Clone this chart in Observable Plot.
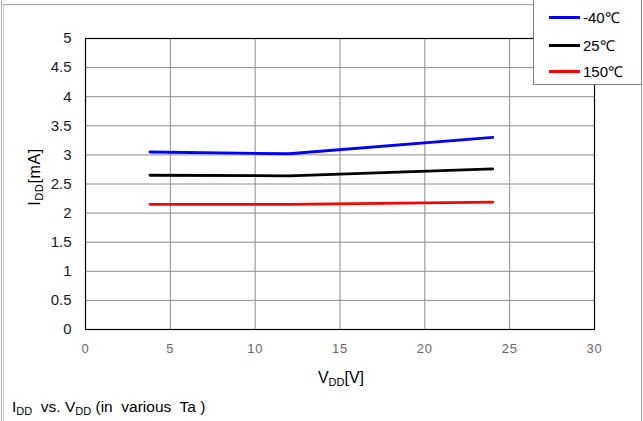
<!DOCTYPE html>
<html>
<head>
<meta charset="utf-8">
<script src="https://cdn.jsdelivr.net/npm/d3@7"></script>
<script src="https://cdn.jsdelivr.net/npm/@observablehq/plot@0.6"></script>
<style>
  html, body { margin: 0; padding: 0; background: #fff; }
  #wrap { position: relative; width: 643px; height: 421px; overflow: hidden; font-family: "Liberation Sans", Arial, sans-serif; }
  #wrap svg { position: absolute; left: 0; top: 0; }
  #wrap svg g[aria-label="x-axis tick label"] text { letter-spacing: 0.8px; }
  .lbl { position: absolute; white-space: nowrap; color: #000; font-size: 16px; }
  .lbl sub { font-size: 11px; vertical-align: -3px; }
  #legend { position: absolute; left: 533px; top: -1px; width: 107px; height: 84px; border: 1px solid #808080; background: #fff; }
  .row { position: absolute; left: 15px; height: 16px; display: flex; align-items: center; font-size: 15px; }
  .sw { width: 31px; height: 3px; margin-right: 3px; }
  .frameL1 { position: absolute; left: 1px; top: 0; width: 1px; height: 421px; background: #b0b0b0; }
  .frameL2 { position: absolute; left: 3px; top: 4px; width: 1px; height: 417px; background: #d0d0d0; }
  .frameT { position: absolute; left: 3px; top: 4px; width: 639px; height: 1px; background: #a0a0a0; }
  .frameR { position: absolute; left: 641px; top: 4px; width: 1px; height: 417px; background: #a0a0a0; }
</style>
</head>
<body>
<div id="wrap"></div>
<script>
// Data
const seriesNames = ["-40℃", "25℃", "150℃"];
const seriesColors = ["#0000ff", "#000000", "#ff0000"];
const vdd = [3.8, 12, 24];
const iddM40 = [3.05, 3.02, 3.30];
const idd25 = [2.65, 2.64, 2.76];
const idd150 = [2.15, 2.15, 2.19];
const xTicks = [0, 5, 10, 15, 20, 25, 30];
const yTicks = [0, 0.5, 1, 1.5, 2, 2.5, 3, 3.5, 4, 4.5, 5];

const seriesValues = [iddM40, idd25, idd150];
const rows = [];
seriesNames.forEach((name, i) => {
  vdd.forEach((v, j) => rows.push({series: name, vdd: v, idd: seriesValues[i][j]}));
});

const chart = Plot.plot({
  width: 643,
  height: 421,
  marginLeft: 85,
  marginTop: 38,
  marginRight: 49,
  marginBottom: 92,
  style: {fontFamily: "'Liberation Sans', Arial, sans-serif", background: "transparent", overflow: "visible"},
  x: {domain: [0, 30]},
  y: {domain: [0, 5]},
  color: {domain: seriesNames, range: seriesColors},
  marks: [
    Plot.gridX(xTicks, {stroke: "#8c8c8c", strokeOpacity: 1}),
    Plot.gridY(yTicks, {stroke: "#8c8c8c", strokeOpacity: 1}),
    Plot.line(rows, {x: "vdd", y: "idd", z: "series", stroke: "series", strokeWidth: 2.8}),
    Plot.frame({stroke: "#000", strokeWidth: 1.2}),
    Plot.axisX(xTicks, {tickSize: 0, tickPadding: 14, fontSize: 13, fill: "#666", label: null, tickFormat: d => String(d)}),
    Plot.axisY(yTicks, {tickSize: 0, tickPadding: 14, fontSize: 15, fill: "#1a1a1a", label: null, tickFormat: d => String(d)})
  ]
});

const wrap = document.getElementById("wrap");
wrap.appendChild(chart);

function addHTML(html) {
  const d = document.createElement("div");
  d.innerHTML = html;
  while (d.firstChild) wrap.appendChild(d.firstChild);
}

addHTML(`<div class="frameL1"></div><div class="frameL2"></div><div class="frameT"></div><div class="frameR"></div>`);
addHTML(`<div class="lbl" style="left:35px; top:177px; letter-spacing:0.6px; transform: translate(-50%,-50%) rotate(-90deg);">I<sub>DD</sub>[mA]</div>`);
addHTML(`<div class="lbl" style="left:341px; top:378px; transform: translate(-50%,-50%);">V<sub>DD</sub>[V]</div>`);
addHTML(`<div class="lbl" style="left:12px; top:407px; transform: translate(0,-50%); font-size:15.5px;">I<sub>DD</sub>&nbsp; vs. V<sub>DD</sub> (in&nbsp; various&nbsp; Ta )</div>`);

const legend = document.createElement("div");
legend.id = "legend";
const rowY = [17, 45, 71];
seriesNames.forEach((name, i) => {
  const r = document.createElement("div");
  r.className = "row";
  r.style.top = (rowY[i] - 8) + "px";
  r.innerHTML = `<div class="sw" style="background:${seriesColors[i]}"></div><span>${name}</span>`;
  legend.appendChild(r);
});
wrap.appendChild(legend);
</script>
</body>
</html>
